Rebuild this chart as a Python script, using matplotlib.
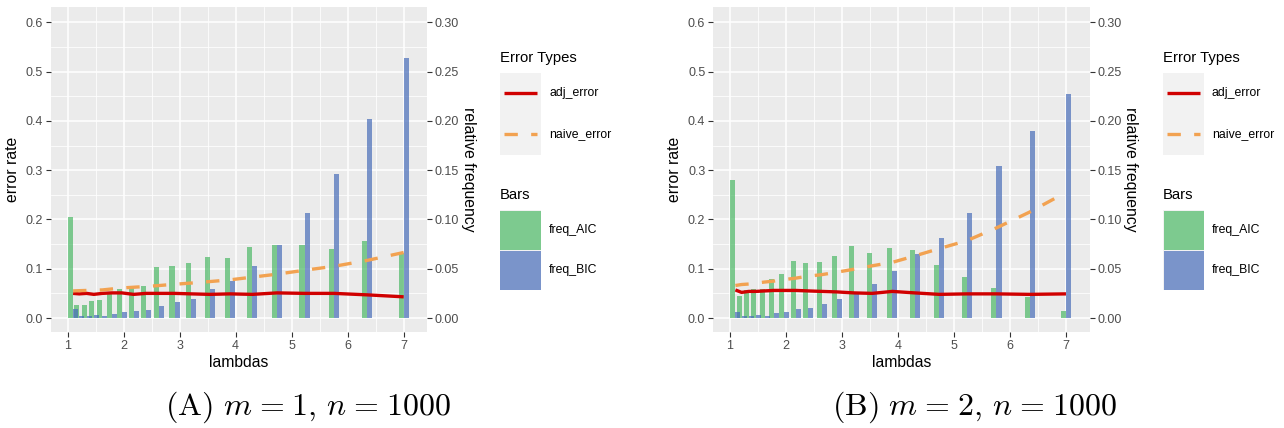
import numpy as np
import matplotlib.pyplot as plt
from matplotlib.patches import Rectangle
from matplotlib.lines import Line2D

plt.rcParams['font.family'] = ['Liberation Sans', 'DejaVu Sans']
plt.rcParams['mathtext.fontset'] = 'cm'

W, H = 1284, 428

# lambda grid shared by both panels
lambdas = [1.10, 1.21, 1.34, 1.47, 1.62, 1.79, 1.97, 2.18, 2.40, 2.64,
           2.91, 3.21, 3.54, 3.90, 4.30, 4.74, 5.23, 5.76, 6.35, 7.00]

# panel A: m = 1
freq_aic_a = [0.1025, 0.0130, 0.0130, 0.0173, 0.0183, 0.0255, 0.0294, 0.0325, 0.0325, 0.0515,
              0.0530, 0.0555, 0.0620, 0.0605, 0.0720, 0.0740, 0.0740, 0.0705, 0.0785, 0.0665]
freq_bic_a = [0.0090, 0.0024, 0.0024, 0.0030, 0.0024, 0.0037, 0.0060, 0.0075, 0.0080, 0.0122,
              0.0163, 0.0198, 0.0290, 0.0378, 0.0527, 0.0745, 0.1065, 0.1460, 0.2025, 0.2640]
adj_a = [0.050, 0.049, 0.050, 0.048, 0.050, 0.051, 0.051, 0.048, 0.050, 0.050,
         0.050, 0.049, 0.048, 0.049, 0.048, 0.051, 0.050, 0.050, 0.047, 0.043]
naive_a = [0.055, 0.0555, 0.056, 0.0565, 0.057, 0.059, 0.061, 0.0625, 0.064, 0.066,
           0.0685, 0.071, 0.074, 0.0775, 0.083, 0.089, 0.097, 0.105, 0.117, 0.133]

# panel B: m = 2
freq_aic_b = [0.1405, 0.0225, 0.0285, 0.0290, 0.0290, 0.0393, 0.0443, 0.0578, 0.0560, 0.0570,
              0.0629, 0.0734, 0.0665, 0.0715, 0.0695, 0.0538, 0.0413, 0.0308, 0.0215, 0.0075]
freq_bic_b = [0.0058, 0.0024, 0.0024, 0.0030, 0.0025, 0.0048, 0.0058, 0.0088, 0.0105, 0.0142,
              0.0193, 0.0250, 0.0345, 0.0477, 0.0650, 0.0809, 0.1062, 0.1540, 0.1895, 0.2269]
adj_b = [0.057, 0.052, 0.054, 0.054, 0.055, 0.056, 0.056, 0.056, 0.055, 0.054,
         0.053, 0.051, 0.050, 0.054, 0.051, 0.048, 0.049, 0.049, 0.048, 0.049]
naive_b = [0.066, 0.068, 0.069, 0.071, 0.073, 0.075, 0.078, 0.081, 0.085, 0.088,
           0.093, 0.099, 0.106, 0.113, 0.126, 0.141, 0.157, 0.183, 0.215, 0.255]

captions = [r'$\mathrm{(A)}\ m\hspace{0.08}=\hspace{0.08}1,\,n\hspace{0.08}=\hspace{0.08}1000$',
            r'$\mathrm{(B)}\ m\hspace{0.08}=\hspace{0.08}2,\,n\hspace{0.08}=\hspace{0.08}1000$']

BG = '#EBEBEB'
GREEN = '#4CB966'
BLUE = '#476CB9'
RED = '#D00000'
ORANGE = '#F2A251'
TICK_TXT = '#4D4D4D'
BAR_W = 0.09
ALPHA = 0.7

fig = plt.figure(figsize=(W / 100, H / 100), dpi=100)


def fx(x):
    return x / W


def fy(y):
    return 1 - y / H


def draw_panel(left, aic, bic, adj, naive):
    ax = fig.add_axes([fx(left), fy(332.3), 376.5 / W, 325.6 / H])
    ax.set_facecolor(BG)
    for s in ax.spines.values():
        s.set_visible(False)
    lam = np.array(lambdas)

    # bars live on the right axis (left = 2 * right, as in sec_axis(~ . / 2))
    ax.bar(lam - BAR_W / 2, np.array(aic) * 2, width=BAR_W, color=GREEN,
           alpha=ALPHA, lw=0, zorder=2)
    ax.bar(lam + BAR_W / 2, np.array(bic) * 2, width=BAR_W, color=BLUE,
           alpha=ALPHA, lw=0, zorder=2)
    ax.plot(lam, adj, color=RED, lw=2.4, zorder=3, solid_capstyle='butt')
    ax.plot(lam, naive, color=ORANGE, lw=2.4, dashes=(4, 4), zorder=3,
            dash_capstyle='butt')

    ax.set_xlim(0.70, 7.42)
    ax.set_ylim(-0.029, 0.632)
    ax.set_xticks(range(1, 8))
    ax.set_xticks(np.arange(1.5, 7.0, 1.0), minor=True)
    ax.set_yticks(np.arange(0, 0.61, 0.1))
    ax.set_yticks(np.arange(0.05, 0.6, 0.1), minor=True)
    ax.set_yticklabels([f'{v:.1f}' for v in np.arange(0, 0.61, 0.1)])
    ax.set_axisbelow(True)
    ax.grid(which='major', color='white', lw=1.1)
    ax.grid(which='minor', color='white', lw=0.55)
    ax.tick_params(which='major', length=3.5, width=0.8, color='#333333',
                   labelcolor=TICK_TXT, labelsize=9, pad=2)
    ax.tick_params(which='minor', length=0)
    ax.set_xlabel('lambdas', fontsize=11.3, labelpad=2)
    ax.set_ylabel('error rate', fontsize=11.3, labelpad=4)

    sec = ax.secondary_yaxis('right', functions=(lambda y: y / 2, lambda y: y * 2))
    sec.spines['right'].set_visible(False)
    sec.set_yticks(np.arange(0, 0.31, 0.05))
    sec.set_yticklabels([f'{v:.2f}' for v in np.arange(0, 0.31, 0.05)])
    sec.tick_params(length=3.5, width=0.8, color='#333333',
                    labelcolor=TICK_TXT, labelsize=9, pad=2)
    sec.set_ylabel('relative frequency', fontsize=11.3, rotation=270,
                   labelpad=12)
    return ax


def draw_legend(x0):
    fig.text(fx(x0), fy(58), 'Error Types', fontsize=10.7, va='center')
    fig.add_artist(Rectangle((fx(x0), fy(155)), 41 / W, 82.3 / H,
                             transform=fig.transFigure, color='#F2F2F2', lw=0))
    fig.add_artist(Line2D([fx(x0 + 4), fx(x0 + 37)], [fy(93), fy(93)],
                          transform=fig.transFigure, color=RED, lw=2.4,
                          solid_capstyle='butt'))
    fig.add_artist(Line2D([fx(x0 + 4), fx(x0 + 37)], [fy(134), fy(134)],
                          transform=fig.transFigure, color=ORANGE, lw=2.4,
                          dashes=(4, 4), dash_capstyle='butt'))
    fig.text(fx(x0 + 49), fy(93), 'adj_error', fontsize=8.8, va='center')
    fig.text(fx(x0 + 49), fy(134), 'naive_error', fontsize=8.8, va='center')

    fig.text(fx(x0), fy(195), 'Bars', fontsize=10.7, va='center')
    for y_top, col, lab in [(210, GREEN, 'freq_AIC'), (250, BLUE, 'freq_BIC')]:
        fig.add_artist(Rectangle((fx(x0), fy(y_top + 40)), 41 / W, 40 / H,
                                 transform=fig.transFigure, color='#F2F2F2', lw=0))
        fig.add_artist(Rectangle((fx(x0 + 0.5), fy(y_top + 39.5)), 40 / W, 39 / H,
                                 transform=fig.transFigure, color=col,
                                 alpha=ALPHA, lw=0))
        fig.text(fx(x0 + 49), fy(y_top + 20), lab, fontsize=8.8, va='center')


draw_panel(50.7, freq_aic_a, freq_bic_a, adj_a, naive_a)
draw_panel(713.0, freq_aic_b, freq_bic_b, adj_b, naive_b)
draw_legend(500)
draw_legend(1163)

fig.text(fx(308), fy(407), captions[0], fontsize=23, ha='center', va='center')
fig.text(fx(974), fy(407), captions[1], fontsize=23, ha='center', va='center')

fig.savefig('out.png', dpi=100)
